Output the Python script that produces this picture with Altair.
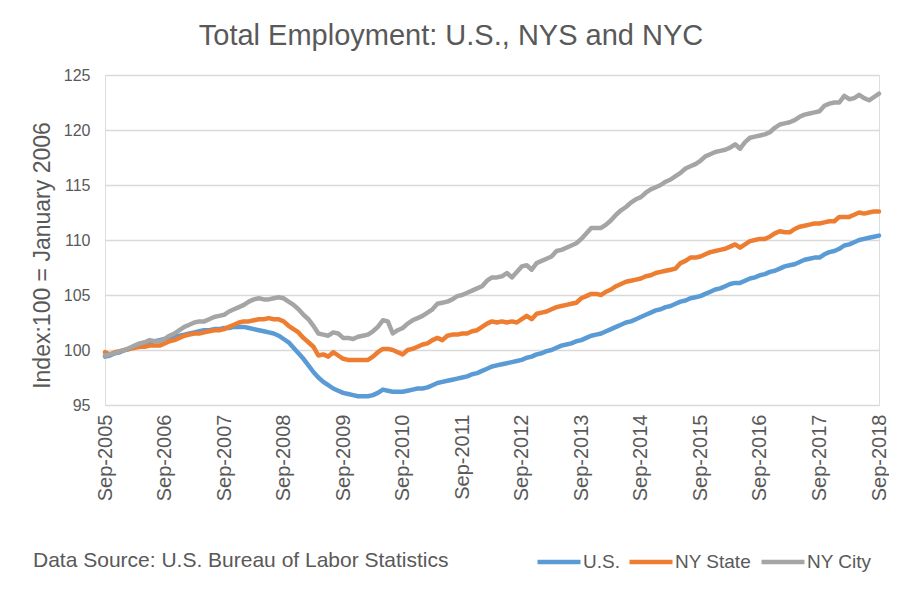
import json
import altair as alt
import pandas as pd

# Monthly index values, Sep-2005 .. Sep-2018 (Index: 100 = January 2006)
us = [
    99.4, 99.5, 99.7, 99.8, 100.0, 100.1, 100.4, 100.5, 100.6, 100.7, 100.8, 100.9,
    101.0, 101.0, 101.2, 101.3, 101.4, 101.5, 101.6, 101.7, 101.8, 101.8, 101.9, 101.9,
    102.0, 102.0, 102.1, 102.1, 102.1, 102.0, 101.9, 101.8, 101.7, 101.6, 101.5, 101.3,
    101.0, 100.7, 100.2, 99.7, 99.2, 98.6, 98.0, 97.5, 97.1, 96.8, 96.5, 96.3,
    96.1, 96.0, 95.9, 95.8, 95.8, 95.8, 95.9, 96.1, 96.4, 96.3, 96.2, 96.2,
    96.2, 96.3, 96.4, 96.5, 96.5, 96.6, 96.8, 97.0, 97.1, 97.2, 97.3, 97.4,
    97.5, 97.6, 97.8, 97.9, 98.1, 98.3, 98.5, 98.6, 98.7, 98.8, 98.9, 99.0,
    99.1, 99.3, 99.4, 99.6, 99.7, 99.9, 100.0, 100.2, 100.4, 100.5, 100.6, 100.8,
    100.9, 101.1, 101.3, 101.4, 101.5, 101.7, 101.9, 102.1, 102.3, 102.5, 102.6, 102.8,
    103.0, 103.2, 103.4, 103.6, 103.7, 103.9, 104.0, 104.2, 104.4, 104.5, 104.7, 104.8,
    104.9, 105.1, 105.3, 105.5, 105.6, 105.8, 106.0, 106.1, 106.1, 106.3, 106.5, 106.6,
    106.8, 106.9, 107.1, 107.2, 107.4, 107.6, 107.7, 107.8, 108.0, 108.2, 108.3, 108.4,
    108.4, 108.7, 108.9, 109.0, 109.2, 109.5, 109.6, 109.8, 110.0, 110.1, 110.2, 110.3,
    110.4,
]
nys = [
    99.8, 99.6, 99.8, 99.9, 100.0, 100.1, 100.2, 100.3, 100.3, 100.4, 100.4, 100.4,
    100.6, 100.8, 100.9, 101.1, 101.3, 101.4, 101.5, 101.5, 101.6, 101.7, 101.8, 101.8,
    101.9, 102.1, 102.3, 102.5, 102.6, 102.6, 102.7, 102.8, 102.8, 102.9, 102.8, 102.8,
    102.6, 102.2, 101.9, 101.6, 101.1, 100.7, 100.3, 99.5, 99.6, 99.4, 99.8, 99.5,
    99.2, 99.1, 99.1, 99.1, 99.1, 99.1, 99.4, 99.8, 100.1, 100.1, 100.0, 99.8,
    99.6, 100.0, 100.1, 100.3, 100.5, 100.6, 100.9, 101.1, 100.9, 101.3, 101.4, 101.4,
    101.5, 101.5, 101.7, 101.8, 102.1, 102.4, 102.6, 102.5, 102.6, 102.5, 102.6, 102.5,
    102.8, 103.1, 102.8, 103.3, 103.4, 103.5, 103.7, 103.9, 104.0, 104.1, 104.2, 104.3,
    104.7, 104.9, 105.1, 105.1, 105.0, 105.3, 105.5, 105.8, 106.0, 106.2, 106.3, 106.4,
    106.5, 106.7, 106.8, 107.0, 107.1, 107.2, 107.3, 107.4, 107.9, 108.1, 108.4, 108.4,
    108.5, 108.7, 108.9, 109.0, 109.1, 109.2, 109.4, 109.6, 109.3, 109.6, 109.9, 110.0,
    110.1, 110.1, 110.3, 110.6, 110.8, 110.7, 110.7, 111.0, 111.2, 111.3, 111.4, 111.5,
    111.5, 111.6, 111.7, 111.7, 112.1, 112.1, 112.1, 112.3, 112.5, 112.4, 112.5, 112.6,
    112.6,
]
nyc = [
    99.5, 99.6, 99.7, 99.9, 100.0, 100.2, 100.4, 100.6, 100.7, 100.9, 100.8, 100.8,
    101.0, 101.3, 101.5, 101.8, 102.1, 102.3, 102.5, 102.6, 102.6, 102.8, 103.0, 103.1,
    103.2, 103.5, 103.7, 103.9, 104.1, 104.4, 104.6, 104.7, 104.6, 104.6, 104.7, 104.8,
    104.7, 104.4, 104.1, 103.7, 103.2, 102.8, 102.2, 101.5, 101.4, 101.3, 101.6, 101.5,
    101.1, 101.1, 101.0, 101.2, 101.3, 101.4, 101.7, 102.1, 102.7, 102.6, 101.5, 101.8,
    102.0, 102.4, 102.7, 102.9, 103.1, 103.4, 103.7, 104.2, 104.3, 104.4, 104.6, 104.9,
    105.0, 105.2, 105.4, 105.6, 105.8, 106.3, 106.6, 106.6, 106.7, 107.0, 106.6, 107.1,
    107.6, 107.7, 107.3, 107.9, 108.1, 108.3, 108.5, 109.0, 109.1, 109.3, 109.5, 109.7,
    110.1, 110.6, 111.1, 111.1, 111.1, 111.4, 111.8, 112.3, 112.7, 113.0, 113.4, 113.7,
    113.9, 114.3, 114.6, 114.8, 115.0, 115.3, 115.5, 115.8, 116.1, 116.5, 116.7, 116.9,
    117.2, 117.6, 117.8, 118.0, 118.1, 118.2, 118.4, 118.7, 118.3, 118.9, 119.3, 119.4,
    119.5, 119.6, 119.8, 120.2, 120.5, 120.6, 120.7, 120.9, 121.2, 121.4, 121.5, 121.6,
    121.7, 122.2, 122.4, 122.5, 122.5, 123.1, 122.8, 122.9, 123.2, 122.9, 122.7, 123.0,
    123.3,
]

series_names = ["U.S.", "NY State", "NY City"]
series_colors = ["#5B9BD5", "#ED7D31", "#A5A5A5"]
tick_labels = ["Sep-2005", "Sep-2006", "Sep-2007", "Sep-2008", "Sep-2009", "Sep-2010",
               "Sep-2011", "Sep-2012", "Sep-2013", "Sep-2014", "Sep-2015", "Sep-2016",
               "Sep-2017", "Sep-2018"]
y_ticks = [95, 100, 105, 110, 115, 120, 125]
title_text = "Total Employment: U.S., NYS and NYC"
y_title = "Index:100 = January 2006"
source_text = "Data Source: U.S. Bureau of Labor Statistics"

FONT = "Liberation Sans"
TXT = "#595959"

n = len(us)
df = pd.DataFrame({
    "m": list(range(n)) * 3,
    "value": us + nys + nyc,
    "series": [s for s, arr in zip(series_names, [us, nys, nyc]) for _ in arr],
})

label_expr = json.dumps(tick_labels) + "[round(datum.value / 12)]"

x_enc = alt.X(
    "m:Q",
    scale=alt.Scale(domain=[0, n - 1], nice=False, zero=False),
    axis=alt.Axis(
        values=list(range(0, n, 12)), labelExpr=label_expr, labelAngle=270,
        labelAlign="right", labelBaseline="middle", labelFontSize=20,
        labelFont=FONT, labelColor=TXT, labelPadding=9, ticks=False,
        domain=False, grid=False, title=None,
    ),
)
y_enc = alt.Y(
    "value:Q",
    scale=alt.Scale(domain=[95, 125], nice=False, zero=False),
    axis=alt.Axis(
        values=y_ticks, ticks=False, domain=False, gridColor="#D9D9D9",
        gridWidth=1.5, labelFontSize=16, labelFont=FONT, labelColor=TXT,
        labelPadding=15, title=y_title, titleFontSize=23, titleFont=FONT,
        titleColor=TXT, titleFontWeight="normal", titleX=-63, titleY=180,
        titleAngle=270, titleAlign="center", titleBaseline="middle",
    ),
)
color_enc = alt.Color(
    "series:N",
    scale=alt.Scale(domain=series_names, range=series_colors),
    legend=alt.Legend(
        title=None, orient="none", legendX=430, legendY=463,
        direction="horizontal", symbolType="stroke", symbolStrokeWidth=4.5,
        symbolSize=1849, labelFontSize=19, labelFont=FONT, labelColor=TXT,
        labelOffset=0, columnPadding=0,
    ),
)

base = alt.Chart(df)
layers = [
    base.transform_filter(alt.datum.series == s)
    .mark_line(strokeWidth=4.5, strokeJoin="round", strokeCap="round")
    .encode(x=x_enc, y=y_enc, color=color_enc)
    for s in series_names
]

source = alt.Chart(pd.DataFrame({"t": [source_text]})).mark_text(
    align="left", baseline="middle", fontSize=21, font=FONT, color=TXT
).encode(x=alt.value(-72), y=alt.value(486), text="t:N")

chart = alt.layer(*layers, source).properties(
    width=774,
    height=330,
    title=alt.TitleParams(
        text=title_text, fontSize=29, font=FONT, color=TXT,
        fontWeight="normal", anchor="middle", dx=-41, offset=16,
    ),
    autosize=alt.AutoSizeParams(type="none"),
    padding={"left": 97, "top": 67, "right": 10, "bottom": 180},
).configure_view(stroke=None).configure(background="white")

chart.save("out.html", embed_options={"renderer": "svg", "actions": False})
